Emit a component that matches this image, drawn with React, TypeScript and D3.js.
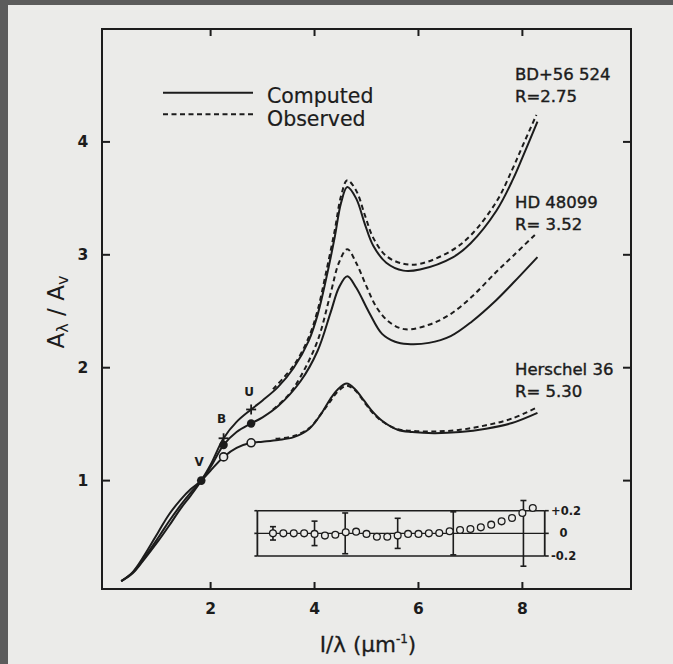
import React from 'react';
import * as d3 from 'd3';

type P = [number, number];

// axis ticks
const xTickValues = [2, 4, 6, 8];
const yTickValues = [1, 2, 3, 4];

// BD+56 524, R = 2.75
const bdComputed: P[] = [
  [0.28, 0.11], [0.5, 0.18], [0.7, 0.29], [1.0, 0.47], [1.2, 0.6], [1.42, 0.75], [1.62, 0.87], [1.82, 1.0],
  [2.0, 1.14], [2.25, 1.375], [2.5, 1.52], [2.78, 1.63], [3.0, 1.71], [3.3, 1.83], [3.6, 2.0], [3.89, 2.24],
  [4.06, 2.47], [4.22, 2.78], [4.39, 3.16], [4.51, 3.46], [4.63, 3.6], [4.8, 3.5], [4.97, 3.27], [5.13, 3.08],
  [5.38, 2.93], [5.71, 2.86], [6.03, 2.87], [6.67, 2.98], [7.0, 3.1], [7.5, 3.39], [7.82, 3.67],
  [8.0, 3.86], [8.29, 4.18],
];
const bdObserved: P[] = [
  [3.2, 1.81], [3.6, 2.02], [3.89, 2.27], [4.06, 2.51], [4.22, 2.84], [4.39, 3.22], [4.51, 3.52], [4.63, 3.66], [4.8, 3.57],
  [4.97, 3.35], [5.13, 3.15], [5.38, 2.99], [5.71, 2.92], [6.03, 2.92], [6.61, 3.03], [7.0, 3.17],
  [7.5, 3.47], [7.8, 3.75], [8.0, 3.96], [8.27, 4.24],
];

// HD 48099, R = 3.52
const hdComputed: P[] = [
  [0.28, 0.11], [0.5, 0.185], [0.7, 0.3], [1.0, 0.5], [1.2, 0.64], [1.42, 0.78], [1.62, 0.895], [1.82, 1.0],
  [2.0, 1.12], [2.25, 1.316], [2.5, 1.43], [2.78, 1.506], [3.0, 1.56], [3.3, 1.66], [3.73, 1.88], [4.06, 2.15],
  [4.31, 2.49], [4.47, 2.71], [4.63, 2.81], [4.8, 2.71], [5.05, 2.49], [5.3, 2.3], [5.55, 2.23], [5.79, 2.21],
  [6.2, 2.22], [6.62, 2.28], [7.03, 2.41], [7.5, 2.6], [7.82, 2.75], [8.29, 2.98],
];
const hdObserved: P[] = [
  [3.2, 1.63], [3.5, 1.76], [3.73, 1.92], [4.06, 2.24], [4.31, 2.66], [4.47, 2.93], [4.63, 3.05], [4.8, 2.93],
  [5.0, 2.72], [5.2, 2.53], [5.45, 2.4], [5.75, 2.34], [6.2, 2.38], [6.6, 2.47], [7.03, 2.63], [7.5, 2.85],
  [7.82, 2.99], [8.27, 3.19],
];

// Herschel 36, R = 5.30
const herComputed: P[] = [
  [0.28, 0.11], [0.5, 0.19], [0.7, 0.32], [1.0, 0.55], [1.2, 0.7], [1.42, 0.83], [1.62, 0.925], [1.82, 1.0],
  [2.0, 1.09], [2.25, 1.21], [2.5, 1.29], [2.78, 1.335], [3.0, 1.345], [3.3, 1.36], [3.6, 1.385],
  [3.9, 1.46], [4.14, 1.6], [4.3, 1.72], [4.45, 1.81], [4.62, 1.86], [4.78, 1.81], [4.95, 1.71], [5.1, 1.62],
  [5.3, 1.53], [5.6, 1.45], [5.88, 1.43], [6.3, 1.42], [6.8, 1.43], [7.3, 1.46],
  [7.8, 1.51], [8.29, 1.6],
];
const herObserved: P[] = [
  [3.25, 1.37], [3.6, 1.395], [3.9, 1.465], [4.14, 1.6], [4.3, 1.7], [4.45, 1.79], [4.62, 1.84],
  [4.78, 1.8], [4.95, 1.7], [5.1, 1.61], [5.3, 1.525], [5.6, 1.455], [5.88, 1.44], [6.3, 1.435],
  [6.8, 1.45], [7.3, 1.49], [7.8, 1.55], [8.29, 1.65],
];

// photometric points V, B, U
const bandNames = ['V', 'B', 'U'];
const bandX = [1.82, 2.25, 2.78];
const bdBand = [1.0, 1.375, 1.63];
const hdBand = [1.0, 1.316, 1.506];
const herBand = [1.0, 1.21, 1.335];

// residual inset
const residualX = [3.2, 3.4, 3.6, 3.8, 4.0, 4.2, 4.4, 4.6, 4.8, 5.0, 5.2, 5.4, 5.6, 5.8, 6.0, 6.2, 6.4, 6.6, 6.8, 7.0, 7.2, 7.4, 7.6, 7.8, 8.0, 8.2];
const residualY = [0, 0, 0, 0, -0.005, -0.02, -0.012, 0.01, 0.015, -0.005, -0.03, -0.03, -0.02, -0.005, -0.005, 0, 0.003, 0.018, 0.03, 0.038, 0.053, 0.077, 0.106, 0.136, 0.18, 0.224];
const errorBarX = [3.2, 4.0, 4.59, 5.6, 6.67, 8.02];
const errorBarHalf = [0.059, 0.108, 0.18, 0.133, 0.19, 0.29];
const insetTicks = [0.2, 0, -0.2];
const insetTickLabels = ['+0.2', '0', '-0.2'];

const starNames = ['BD+56 524', 'HD 48099', 'Herschel 36'];
const starR = ['R=2.75', 'R= 3.52', 'R= 5.30'];

export default function App() {
  const W = 673, H = 664;
  const ink = '#1c1c1c';
  const bg = '#ebebe9';
  const font = 'DejaVu Sans, sans-serif';
  const x = d3.scaleLinear().domain([-0.09, 10.09]).range([102, 631]);
  const y = d3.scaleLinear().domain([0.04, 5.0]).range([589, 29]);
  const iy = d3.scaleLinear().domain([-0.2, 0.2]).range([556, 510.7]);
  const line = d3.line<P>().x(d => x(d[0])).y(d => y(d[1])).curve(d3.curveCatmullRom.alpha(0.5));
  const [x0, x1] = x.range();
  const [y0, y1] = y.range();
  const insetL = x(2.9), insetR = x(8.43);

  const labelY = [80, 208, 375];

  const solid = { fill: 'none', stroke: ink, strokeWidth: 2 };
  const dashed = { fill: 'none', stroke: ink, strokeWidth: 2, strokeDasharray: '5 3.5' };

  return (
    <div style={{ position: 'absolute', left: 0, top: 0 }}>
      <svg width={W} height={H} style={{ display: 'block' }}>
        <rect x={0} y={0} width={W} height={H} fill={bg} />
        <rect x={0} y={0} width={8} height={H} fill="#5c5c5c" />
        <rect x={0} y={0} width={W} height={5} fill="#5c5c5c" />

        {/* frame */}
        <rect x={x0} y={y1} width={x1 - x0} height={y0 - y1} fill="none" stroke={ink} strokeWidth={2} />
        {xTickValues.map(t => (
          <g key={'xt' + t}>
            <line x1={x(t)} x2={x(t)} y1={y0} y2={y0 - 7} stroke={ink} strokeWidth={2} />
            <line x1={x(t)} x2={x(t)} y1={y1} y2={y1 + 7} stroke={ink} strokeWidth={2} />
            <text x={x(t)} y={613.5} textAnchor="middle" fontFamily={font} fontWeight="bold" fontSize={15.5} fill={ink}>{t}</text>
          </g>
        ))}
        {yTickValues.map(t => (
          <g key={'yt' + t}>
            <line x1={x0} x2={x0 + 8} y1={y(t)} y2={y(t)} stroke={ink} strokeWidth={2} />
            <line x1={x1} x2={x1 - 8} y1={y(t)} y2={y(t)} stroke={ink} strokeWidth={2} />
            <text x={83} y={y(t)} dy="0.36em" textAnchor="middle" fontFamily={font} fontWeight="bold" fontSize={15.5} fill={ink}>{t}</text>
          </g>
        ))}

        {/* axis titles */}
        <text transform="translate(64,312) rotate(-90)" textAnchor="middle" fontFamily={font} fontSize={23} fill={ink}>
          A<tspan fontSize={16} dy={4}>λ</tspan><tspan dy={-4}> / A</tspan><tspan fontSize={16} dy={4}>v</tspan>
        </text>
        <text x={368} y={651.5} textAnchor="middle" fontFamily={font} fontSize={21.5} fill={ink} stroke={ink} strokeWidth={0.3}>
          I/λ (μm<tspan fontSize={12} dy={-9}>-1</tspan><tspan dy={9}>)</tspan>
        </text>

        {/* legend */}
        <line x1={163} x2={253} y1={92.7} y2={92.7} stroke={ink} strokeWidth={2} />
        <line x1={163} x2={253} y1={114.3} y2={114.3} {...dashed} />
        <text x={267} y={102.5} fontFamily={font} fontSize={20.5} fill={ink} stroke={ink} strokeWidth={0.2}>Computed</text>
        <text x={267} y={125.5} fontFamily={font} fontSize={20.5} fill={ink} stroke={ink} strokeWidth={0.2}>Observed</text>

        {/* star labels */}
        {starNames.map((s, i) => (
          <g key={s}>
            <text x={515} y={labelY[i]} fontFamily={font} fontSize={16.5} fill={ink} stroke={ink} strokeWidth={0.4}>{s}</text>
            <text x={515} y={labelY[i] + 21.5} fontFamily={font} fontSize={16.5} fill={ink} stroke={ink} strokeWidth={0.4}>{starR[i]}</text>
          </g>
        ))}

        {/* curves */}
        <path d={line(bdComputed) || ''} {...solid} />
        <path d={line(bdObserved) || ''} {...dashed} />
        <path d={line(hdComputed) || ''} {...solid} />
        <path d={line(hdObserved) || ''} {...dashed} />
        <path d={line(herComputed) || ''} {...solid} />
        <path d={line(herObserved) || ''} {...dashed} />

        {/* photometric points */}
        {bandX.map((bx, i) => {
          const cx = x(bx);
          return (
            <g key={'band' + i}>
              {i > 0 && (
                <g>
                  <circle cx={cx} cy={y(herBand[i])} r={4} fill={bg} stroke={ink} strokeWidth={1.6} />
                  <circle cx={cx} cy={y(hdBand[i])} r={4.2} fill={ink} />
                  <line x1={cx - 5} x2={cx + 5} y1={y(bdBand[i])} y2={y(bdBand[i])} stroke={ink} strokeWidth={1.8} />
                  <line x1={cx} x2={cx} y1={y(bdBand[i]) - 5} y2={y(bdBand[i]) + 5} stroke={ink} strokeWidth={1.8} />
                </g>
              )}
              {i === 0 && <circle cx={cx} cy={y(hdBand[i])} r={4.3} fill={ink} />}
              <text x={cx - 2} y={y(bdBand[i]) - (i === 2 ? 13 : 15)} textAnchor="middle" fontFamily={font} fontWeight="bold" fontSize={12} fill={ink}>{bandNames[i]}</text>
            </g>
          );
        })}

        {/* residual inset */}
        {insetTicks.map((t, i) => (
          <g key={'it' + i}>
            <line x1={insetL} x2={insetR} y1={iy(t)} y2={iy(t)} stroke={ink} strokeWidth={t === 0 ? 1.3 : 1.6} />
            <line x1={insetL - 3} x2={insetL} y1={iy(t)} y2={iy(t)} stroke={ink} strokeWidth={1.6} />
            <line x1={insetR} x2={insetR + 4} y1={iy(t)} y2={iy(t)} stroke={ink} strokeWidth={1.6} />
            <text x={t === 0 ? 563.5 : 551} y={iy(t)} dy="0.36em" textAnchor={t === 0 ? 'middle' : 'start'} fontFamily={font} fontWeight="bold" fontSize={11.5} fill={ink}>{insetTickLabels[i]}</text>
          </g>
        ))}
        <line x1={insetL} x2={insetL} y1={iy(0.2)} y2={iy(-0.2)} stroke={ink} strokeWidth={1.8} />
        <line x1={insetR} x2={insetR} y1={iy(0.2)} y2={iy(-0.2)} stroke={ink} strokeWidth={1.8} />
        {errorBarX.map((ex, i) => (
          <g key={'eb' + i}>
            <line x1={x(ex)} x2={x(ex)} y1={iy(-errorBarHalf[i])} y2={iy(errorBarHalf[i])} stroke={ink} strokeWidth={1.6} />
            <line x1={x(ex) - 3} x2={x(ex) + 3} y1={iy(-errorBarHalf[i])} y2={iy(-errorBarHalf[i])} stroke={ink} strokeWidth={1.6} />
            <line x1={x(ex) - 3} x2={x(ex) + 3} y1={iy(errorBarHalf[i])} y2={iy(errorBarHalf[i])} stroke={ink} strokeWidth={1.6} />
          </g>
        ))}
        {residualX.map((rx, i) => (
          <circle key={'r' + i} cx={x(rx)} cy={iy(residualY[i])} r={3.4} fill={bg} stroke={ink} strokeWidth={1.3} />
        ))}
      </svg>
    </div>
  );
}
